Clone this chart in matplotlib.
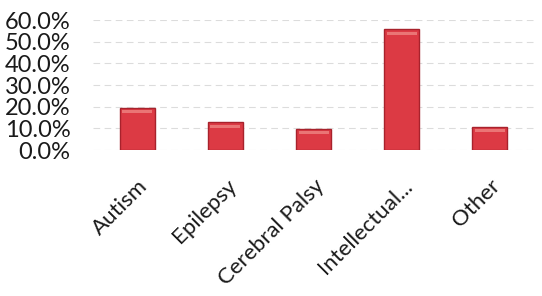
import matplotlib
matplotlib.use("Agg")
import matplotlib.pyplot as plt
from matplotlib.ticker import PercentFormatter
import matplotlib.transforms as mtransforms

categories = ["Autism", "Epilepsy", "Cerebral Palsy", "Intellectual...", "Other"]
values = [19.5, 12.8, 9.8, 55.7, 10.6]
yticks = [0, 10, 20, 30, 40, 50, 60]

plt.rcParams['font.family'] = ['Lato', 'DejaVu Sans']

fig = plt.figure(figsize=(5.42, 2.96), dpi=100)
ax = fig.add_axes([0.172, 0.493, 0.813, 0.439])

x = list(range(len(categories)))
ax.bar(x, values, width=0.4, color='#dc3a44', edgecolor='#a8222c', linewidth=1.0, zorder=3)
# subtle highlight near top of each bar
ax.bar(x, [1.4] * len(values), bottom=[v - 2.4 for v in values], width=0.34,
       color='#f08a86', linewidth=0, zorder=4, alpha=0.75)

ax.set_xlim(-0.5, len(categories) - 0.5)
ax.set_ylim(0, 60)
ax.set_yticks(yticks)
ax.yaxis.set_major_formatter(PercentFormatter(decimals=1))
ax.grid(axis='y', color='#dcdcdc', linewidth=0.8, linestyle=(0, (6, 4)), zorder=0)
for s in ax.spines.values():
    s.set_visible(False)
ax.tick_params(axis='both', length=0, colors='#1a1a1a', pad=4)
ax.tick_params(axis='y', pad=16.5, labelsize=17)
ax.tick_params(axis='x', labelsize=16)
ax.set_xticks(x)
ax.set_xticklabels(categories, rotation=45, ha='right', va='center', rotation_mode='anchor')
offset = mtransforms.ScaledTranslation(5.5 / 72, -19.5 / 72, fig.dpi_scale_trans)
for lab in ax.get_xticklabels():
    lab.set_transform(lab.get_transform() + offset)

fig.savefig("out.png", dpi=100, facecolor='white')
